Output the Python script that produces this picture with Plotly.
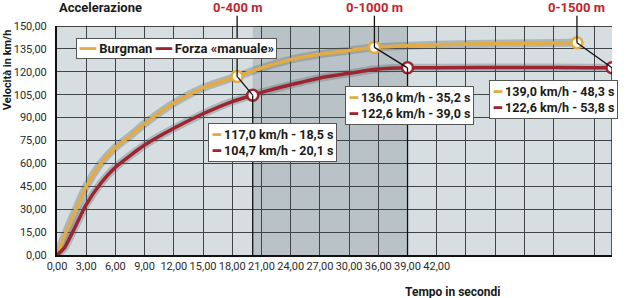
import numpy as np
import plotly.graph_objects as go

# ---- data ----
# axis scale of the original chart (time in s -> grid position), as printed
T_ANCHORS = [0, 30, 36, 39, 42, 48.3, 53.8]
G_ANCHORS = [0, 10, 11, 12, 13, 17.8, 19]
tick_pos = list(range(0, 14)) + [14, 15, 16, 17, 18.4, 19]
tick_labels = ["0,00", "3,00", "6,00", "9,00", "12,00", "15,00", "18,00", "21,00",
               "24,00", "27,00", "30,00", "36,00", "39,00", "42,00", "", "", "", "", "", ""]
y_ticks = [0, 15, 30, 45, 60, 75, 90, 105, 120, 135, 150]

series_names = ["Burgman", "Forza «manuale»"]
burgman_t = [0, 0.8, 1.6, 3, 4.5, 6, 7.5, 9, 12, 15, 18, 18.5, 21, 24, 27, 30, 33, 35.2, 39, 42, 45, 48.3]
burgman_v = [0, 13, 25, 45, 60, 70.5, 78, 86, 99.5, 109.5, 116, 117, 122.5, 128, 131.5, 134, 135.3, 136, 137, 137.8, 138.5, 139]
forza_t = [0, 0.8, 1.6, 3, 4.5, 6, 9, 12, 15, 18, 20.1, 21, 24, 27, 30, 33, 36, 39, 42, 46, 50, 53.8]
forza_v = [0, 5, 15, 33, 47, 57.5, 72, 83, 92.5, 100.5, 104.7, 106.5, 111.5, 116, 119, 120.5, 121.8, 122.6, 122.7, 122.8, 122.7, 122.6]

milestones = ["0-400 m", "0-1000 m", "0-1500 m"]
burgman_mt = [18.5, 35.2, 48.3]
burgman_mv = [117.0, 136.0, 139.0]
forza_mt = [20.1, 39.0, 53.8]
forza_mv = [104.7, 122.6, 122.6]

YEL = "#e2ab44"
RED = "#9c2530"
GRID = "#3e4448"
FONT = "Liberation Sans Narrow, Roboto, Arial, sans-serif"


def fmt(v):
    return f"{v:.1f}".replace(".", ",")


def tmap(t):
    return np.interp(t, T_ANCHORS, G_ANCHORS)


fig = go.Figure()

# shadows
for t, v in [(burgman_t, burgman_v), (forza_t, forza_v)]:
    fig.add_trace(go.Scatter(x=tmap(t), y=v, mode="lines", hoverinfo="skip", showlegend=False,
                             line=dict(color="rgba(80,92,98,0.30)", width=8, shape="spline", smoothing=0.6)))

fig.add_trace(go.Scatter(x=tmap(burgman_t), y=burgman_v, mode="lines", name=series_names[0], showlegend=False,
                         line=dict(color=YEL, width=3.5, shape="spline", smoothing=0.6)))
fig.add_trace(go.Scatter(x=tmap(forza_t), y=forza_v, mode="lines", name=series_names[1], showlegend=False,
                         line=dict(color=RED, width=3.5, shape="spline", smoothing=0.6)))

shapes = []
# shaded band between Forza 0-400 m and Forza 0-1000 m
shapes.append(dict(type="rect", xref="x", yref="y", x0=tmap(forza_mt[0]), x1=tmap(forza_mt[1]),
                   y0=0, y1=150, fillcolor="#b9c3c7", line_width=0, layer="below"))
for i in range(3):
    bx, by = tmap(burgman_mt[i]), burgman_mv[i]
    fx, fy = tmap(forza_mt[i]), forza_mv[i]
    shapes.append(dict(type="line", xref="x", yref="y", x0=bx, x1=bx, y0=by, y1=150,
                       line=dict(color="#111", width=1.3)))
    shapes.append(dict(type="line", xref="x", yref="paper", x0=bx, x1=bx, y0=1.0, y1=1.045,
                       line=dict(color="#111", width=1.3)))
    shapes.append(dict(type="line", xref="x", yref="y", x0=bx, x1=fx, y0=by, y1=fy,
                       line=dict(color="#111", width=1.3)))
    shapes.append(dict(type="line", xref="x", yref="y", x0=fx, x1=fx, y0=0, y1=fy,
                       line=dict(color="#111", width=1.3)))
# top frame line
shapes.append(dict(type="line", xref="paper", yref="y", x0=0, x1=1, y0=150, y1=150,
                   line=dict(color="#111", width=1.5)))

fig.add_trace(go.Scatter(x=tmap(burgman_mt), y=burgman_mv, mode="markers", showlegend=False, hoverinfo="skip",
                         marker=dict(size=11, color="#fffdf2", line=dict(color=YEL, width=2.5))))
fig.add_trace(go.Scatter(x=tmap(forza_mt), y=forza_mv, mode="markers", showlegend=False, hoverinfo="skip",
                         marker=dict(size=11, color="#ffffff", line=dict(color=RED, width=2.5))))

annotations = []
for i, lab in enumerate(milestones):
    annotations.append(dict(x=tmap(burgman_mt[i]), y=1.08, xref="x", yref="paper", text=f"<b>{lab}</b>",
                            showarrow=False, font=dict(family=FONT, size=13, color="#c0252d"),
                            xanchor="center", yanchor="middle"))

box_pos = [(0.272, 0.576), (0.519, 0.738), (0.778, 0.764)]
for i, (px, py) in enumerate(box_pos):
    txt = (f"<span style='color:{YEL}'>━</span> {fmt(burgman_mv[i])} km/h - {fmt(burgman_mt[i])} s<br>"
           f"<span style='color:{RED}'>━</span> {fmt(forza_mv[i])} km/h - {fmt(forza_mt[i])} s")
    annotations.append(dict(x=px, y=py, xref="paper", yref="paper", text=f"<b>{txt}</b>", showarrow=False,
                            xanchor="left", yanchor="top", align="left", bgcolor="white",
                            bordercolor="#555", borderwidth=1, borderpad=3,
                            font=dict(family=FONT, size=12.5, color="#1a1a1a")))

# legend box
legend_txt = (f"<span style='color:{YEL}'>━━</span> {series_names[0]} "
              f"<span style='color:{RED}'>━━</span> {series_names[1]}")
annotations.append(dict(x=0.034, y=0.948, xref="paper", yref="paper", text=f"<b>{legend_txt}</b>",
                        showarrow=False, xanchor="left", yanchor="top", bgcolor="white",
                        bordercolor="#555", borderwidth=1, borderpad=2,
                        font=dict(family=FONT, size=13, color="#1a1a1a")))

annotations.append(dict(x=0, y=1.08, xref="paper", yref="paper", text="<b>Accelerazione</b>", showarrow=False,
                        xanchor="left", yanchor="middle", font=dict(family=FONT, size=13, color="#1a1a1a")))
annotations.append(dict(x=-0.088, y=0.808, xref="paper", yref="paper", text="<b>Velocità in km/h</b>",
                        showarrow=False, textangle=-90, xanchor="center", yanchor="middle",
                        font=dict(family=FONT, size=11, color="#1a1a1a")))
annotations.append(dict(x=0.714, y=-0.162, xref="paper", yref="paper", text="<b>Tempo in secondi</b>",
                        showarrow=False, xanchor="center", yanchor="middle",
                        font=dict(family=FONT, size=12, color="#1a1a1a")))

fig.update_layout(
    width=630, height=298,
    margin=dict(l=57, r=18, t=26, b=43),
    paper_bgcolor="white", plot_bgcolor="#d6dee1",
    shapes=shapes, annotations=annotations,
    font=dict(family=FONT, size=11, color="#2a2a2a"),
    showlegend=False,
)
fig.update_xaxes(range=[0, 19], tickmode="array", tickvals=tick_pos, ticktext=tick_labels,
                 showgrid=True, gridcolor=GRID, gridwidth=1.2, zeroline=False,
                 showline=True, linecolor="#111", linewidth=2, ticks="", ticklen=0)
fig.update_yaxes(range=[0, 150], tickmode="array", tickvals=y_ticks,
                 ticktext=[f"{v:.2f}".replace(".", ",") for v in y_ticks],
                 showgrid=True, gridcolor=GRID, gridwidth=1.2, zeroline=False,
                 showline=True, linecolor="#111", linewidth=2, ticks="", ticklabelstandoff=6)

fig.write_html("out.html")
